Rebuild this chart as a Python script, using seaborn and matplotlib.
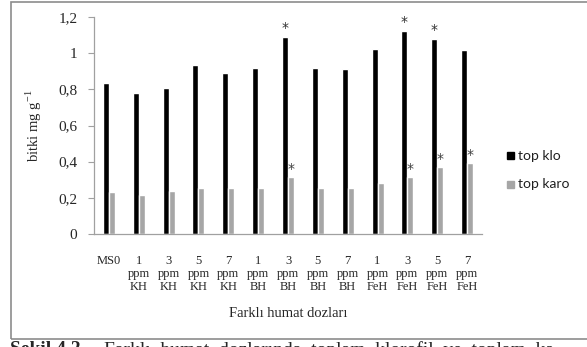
import matplotlib
matplotlib.use("Agg")
import matplotlib.pyplot as plt
import seaborn as sns
import pandas as pd
from matplotlib.patches import Rectangle

categories = ["MS0", "1\nppm\nKH", "3\nppm\nKH", "5\nppm\nKH", "7\nppm\nKH",
              "1\nppm\nBH", "3\nppm\nBH", "5\nppm\nBH", "7\nppm\nBH",
              "1\nppm\nFeH", "3\nppm\nFeH", "5\nppm\nFeH", "7\nppm\nFeH"]
top_klo = [0.833, 0.778, 0.806, 0.937, 0.890, 0.916, 1.091,
           0.920, 0.911, 1.021, 1.124, 1.079, 1.016]
top_karo = [0.232, 0.218, 0.238, 0.254, 0.253, 0.256, 0.317,
            0.253, 0.253, 0.282, 0.317, 0.369, 0.394]
star_klo = [6, 10, 11]
star_karo = [6, 10, 11, 12]
series_names = ["top klo", "top karo"]
y_ticks = [0, 0.2, 0.4, 0.6, 0.8, 1.0, 1.2]
y_tick_labels = ["0", "0,2", "0,4", "0,6", "0,8", "1", "1,2"]

df = pd.DataFrame({
    "doz": categories * 2,
    "deger": top_klo + top_karo,
    "seri": [series_names[0]] * len(categories) + [series_names[1]] * len(categories),
})

sns.set_style("white")
plt.rcParams["font.family"] = ["Liberation Serif", "DejaVu Serif"]

W, H = 587, 347
fig = plt.figure(figsize=(W / 100, H / 100), dpi=100)
ax = fig.add_axes([94 / W, 1 - 234 / H, (482 - 94) / W, (234 - 17) / H])

sns.barplot(data=df, x="doz", y="deger", hue="seri", order=categories,
            hue_order=series_names, palette=["#000000", "#a6a6a6"],
            width=0.4, gap=0, saturation=1, errorbar=None, ax=ax,
            legend=False)

ax.set_ylim(0, 1.2)
ax.set_xlim(-0.5, len(categories) - 0.5)
ax.set_yticks(y_ticks)
ax.set_yticklabels(y_tick_labels, fontsize=11)
ax.set_xticks(range(len(categories)))
ax.set_xticklabels(categories, fontsize=9, linespacing=1.12)
ax.tick_params(axis="y", length=4, width=0.8, color="#a0a0a0", pad=8, direction="out", left=True)
ax.tick_params(axis="x", length=0, pad=15)
for s in ["top", "right"]:
    ax.spines[s].set_visible(False)
for s in ["left", "bottom"]:
    ax.spines[s].set_color("#a0a0a0")
    ax.spines[s].set_linewidth(0.9)
ax.grid(False)
ax.set_xlabel("Farklı humat dozları", fontsize=10.5, labelpad=10)
ax.set_ylabel("bitki mg g$^{\\mathdefault{-1}}$", fontsize=10.5, labelpad=10)

# significance markers
off = 0.1
for i in star_klo:
    ax.text(i - off, top_klo[i] + 0.01, "*", ha="center", va="bottom",
            fontsize=10, color="#303030", family="DejaVu Sans")
for i in star_karo:
    ax.text(i + off, top_karo[i] + 0.005, "*", ha="center", va="bottom",
            fontsize=10, color="#404040", family="DejaVu Sans")

# legend
for yy, name, col in [(156, series_names[0], "#000000"), (184, series_names[1], "#a6a6a6")]:
    fig.patches.append(Rectangle((507 / W, 1 - (yy + 3.5) / H), 7 / W, 7 / H,
                                 transform=fig.transFigure, color=col))
    fig.text(518 / W, 1 - yy / H, name, fontsize=10, va="center", ha="left",
             family=["Lato", "DejaVu Sans"], color="#202020")

# outer frame
fig.patches.append(Rectangle((11 / W, 1 - 339 / H), (600 - 11) / W, (339 - 2) / H,
                             transform=fig.transFigure, fill=False,
                             edgecolor="#8c8c8c", linewidth=1.2))

# caption
fig.text(10 / W, 1 - 341 / H, "Şekil 4.2.", fontsize=14, fontweight="bold",
         va="top", ha="left")
fig.text(104 / W, 1 - 341 / H, "Farklı  humat  dozlarında  toplam  klorofil  ve  toplam  ka",
         fontsize=14, va="top", ha="left")

fig.savefig("out.png", dpi=100)
